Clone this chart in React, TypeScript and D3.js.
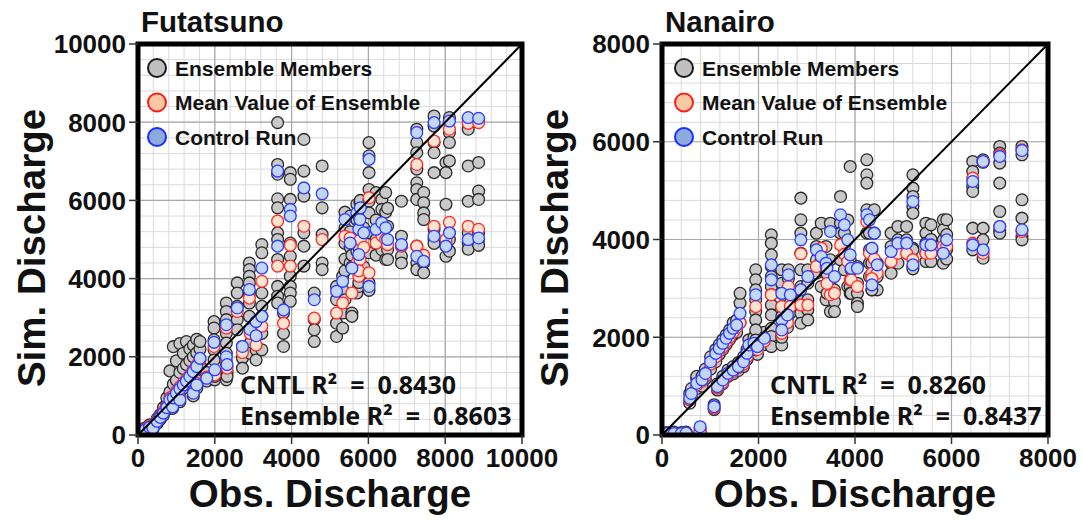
import React from "react";
import * as d3 from "d3";

// ---------- Futatsuno data (obs, control run, ensemble mean, members) ----------
const futObs = [60, 180, 300, 390, 500, 580, 660, 750, 830, 900, 920, 1000, 1090, 1090, 1180, 1260, 1350, 1440, 1440, 1530, 1530, 1615, 1790,
  1980, 2000, 2300, 2300, 2320, 2585, 2720, 2900, 2920, 3075, 3075, 3225, 3225, 3636, 3636, 3790, 3966, 3966, 4320, 4590, 4795, 5170, 5330,
  5390, 5525, 5570, 5700, 5750, 5780, 5790, 5750, 5880, 6016, 6016, 6200, 6350, 6450, 6500, 6860, 7260, 7260, 7440, 7710, 7710, 8020, 8110, 8110, 8600, 8600, 8870, 8870];
const futCtrl = [80, 120, 200, 180, 350, 450, 560, 700, 900, 720, 950, 1070, 900, 1180, 1280, 1380, 1490, 1070, 1620, 1750, 1280, 1960, 1450,
  2370, 1667, 2820, 2000, 1800, 3250, 2265, 3720, 2700, 2900, 2540, 4270, 3034, 6750, 4830, 3200, 5770, 5600, 6320, 3460, 6170, 3675, 3930,
  5510, 4910, 4270, 5680, 5260, 5510, 5810, 4615, 5170, 7050, 3800, 5260, 5430, 5300, 5000, 4870, 7735, 4570, 4445, 7990, 5085, 4830, 8030, 5170, 8120, 5000, 8100, 5040];
const futMean = [70, 140, 220, 200, 380, 470, 600, 730, 950, 760, 1000, 1120, 950, 1230, 1330, 1420, 1530, 1120, 1660, 1780, 1320, 1920, 1480,
  2265, 1540, 2735, 1920, 1710, 3160, 2110, 3500, 2600, 2690, 2300, 3930, 2780, 5470, 4320, 2860, 4850, 4320, 5340, 2990, 5000, 3120, 3376,
  5085, 5040, 3630, 4400, 4060, 4490, 5000, 4200, 4800, 6070, 4150, 4910, 5100, 5000, 4870, 4830, 6920, 4830, 4600, 7520, 5340, 5000, 7820, 5440, 7970, 5340, 7990, 5260];
const futMembers = [
  [40, 100], [90, 180], [170, 260], [150, 240], [300, 420], [400, 520], [500, 650, 700], [650, 800, 950], [800, 1100, 1640], [680, 820],
  [900, 1300, 2260], [1000, 1400, 1900], [850, 1000], [1100, 1600, 2340], [1200, 1700, 2090], [1300, 1800, 2390], [1400, 1900, 2200],
  [1000, 1200], [1550, 2000, 2300], [1650, 2100, 2450], [1200, 1400], [1800, 2200, 2390], [1380, 1600],
  [2900, 2735, 2435, 2180, 1920], [1410, 1500, 1620], [3376, 3160, 2950, 2600, 2350], [2090, 1840, 1580, 1410], [1600, 1500],
  [3890, 3630, 3290, 2950, 2690], [2265, 1966, 1710], [4400, 4230, 4060, 3890, 3630, 3376, 3034], [2690, 2350, 2090], [2780, 2520],
  [2180, 1920], [4870, 4660, 3630, 3290], [3034, 2600, 2180], [7990, 6920, 6670, 6040, 5810, 5170, 5000], [4490, 3800, 3550, 3376],
  [3120, 2600, 2265], [6710, 6540, 6025, 4910, 4570], [4060, 3800, 3630, 3420], [7560, 6750, 6110, 5170, 4830, 4320],
  [3630, 2950, 2690, 2390], [6880, 5810, 5130, 4400, 4230], [3800, 3460, 2860, 2520], [4060, 3720, 3120, 2735],
  [5700, 5300, 4900, 4500, 4200, 3460], [5600, 5200, 4800, 4400], [4600, 4300, 3120, 3034], [5900, 5500, 5000, 4700, 3630],
  [5600, 4900, 4500, 3800], [5950, 5400, 4700, 4300], [6000, 5300, 4600], [4800, 4400, 3900], [5800, 5300, 4700, 4300],
  [7480, 7140, 6710, 6280, 5980, 5680, 5170], [4660, 3890, 3700], [6200, 5500, 5000, 4600], [6025, 5770, 5340, 4740],
  [6200, 5700, 5000, 4490], [5800, 5340, 4740, 4490], [5980, 5085, 4830, 4570, 4400], [7820, 7480, 7220, 6800, 6450, 6280, 6025],
  [4830, 4400, 4230], [6200, 5940, 5680, 5510, 4400, 4150], [8160, 7900, 7480, 7220, 6710], [5260, 5000, 4900],
  [6970, 6710, 5900, 4830, 4570], [8120, 7735, 7480, 7010], [5170, 5000, 4700], [8080, 7820, 6880], [5980, 5170, 4910, 4750],
  [8080, 6970, 6240], [6025, 5170, 5000, 4850],
];

// ---------- Nanairo data ----------
const nanObs = [100, 250, 400, 500, 790, 1080, 575, 610, 720, 830, 900, 1007, 1115, 1187, 1260, 1330, 1400, 1475, 1547, 1618,
  1150, 1260, 1367, 1475, 1583, 1690, 1763, 1800, 1906, 1978, 2122, 1942, 2266, 2266, 2482, 2482, 2482, 2620, 2660, 2600,
  2878, 2878, 3022, 3200, 3300, 3400, 3490, 3420, 3575, 3700, 3780, 3850, 3900, 3920, 4050, 4245, 4300, 4350, 4400, 4460, 4350,
  4748, 4890, 5070, 5200, 5200, 5470, 5575, 5830, 5900, 6440, 6440, 6655, 6655, 7000, 7000, 7460, 7460];
const nanCtrl = [30, 30, 30, 40, 170, 580, 750, 850, 1060, 1130, 1260, 1500, 1670, 1775, 1877, 1980, 2080, 2184, 2250, 2490,
  990, 1126, 1263, 1330, 1400, 1500, 1672, 1843, 1877, 1809, 1980, 2870, 3481, 3174, 2900, 2355, 2150, 3277, 2870, 2457,
  3993, 2970, 3242, 3788, 3652, 3515, 4164, 3413, 3242, 4505, 4300, 3993, 3686, 3413, 3413, 4505, 4403, 3823, 4130, 3481, 3072,
  3754, 3925, 3925, 4778, 3481, 3890, 3890, 3720, 3993, 5188, 3890, 5597, 3788, 5700, 4266, 5822, 4198];
const nanMean = [20, 20, 20, 30, 60, 550, 720, 820, 1020, 1100, 1200, 1450, 1600, 1720, 1800, 1900, 2000, 2100, 2200, 2300,
  960, 1080, 1220, 1300, 1380, 1450, 1600, 1800, 1820, 1750, 1920, 2628, 2870, 2870, 2628, 2082, 2082, 3038, 2628, 2300,
  3707, 2662, 2662, 3447, 3823, 3447, 2870, 3100, 2900, 3890, 3700, 3550, 3174, 3174, 3038, 4368, 3720, 3310, 3600, 3310, 3200,
  3549, 3720, 3720, 3584, 3584, 3720, 3720, 3857, 3857, 5256, 3925, 5597, 3720, 5734, 4266, 5836, 4164];
const nanMembers = [
  [10, 50], [20, 60], [20, 50], [20, 60], [40, 120], [520, 620], [650, 850], [800, 950], [950, 1150, 1200], [1000, 1200],
  [1150, 1350], [1350, 1600], [1500, 1750], [1650, 1850], [1750, 1950], [1850, 2050], [1950, 2150], [2050, 2300], [2100, 2350],
  [2300, 2700, 2900], [920, 1050], [1050, 1200], [1200, 1330], [1250, 1400], [1320, 1480], [1400, 1600], [1550, 1750], [1700, 1950],
  [1750, 2000], [1650, 1900], [1850, 2100], [3380, 3174, 2970, 2765, 2526, 2355, 2150, 1945, 1740], [4095, 3925, 3686, 3447, 3242, 3038],
  [2870, 2662, 2457, 2184, 2014, 1809], [3380, 3106, 2900, 2628, 2423], [2082, 1843], [2000], [3380, 3200, 2900], [2700, 2500],
  [2400, 2200], [4846, 4403, 4130, 3720], [3380, 3038, 2765, 2492, 2287], [3380, 3106, 2765, 2560, 2355], [4130, 3857, 3584, 3310],
  [4334, 3584, 3038], [3857, 3310, 2765], [4334, 3584, 3038, 2526], [3300, 2900], [2970, 2730, 2526], [4880, 4334, 4130, 3584],
  [4130, 3857, 3380], [4400, 3600, 3038], [5495, 3584, 3038, 2900], [3380, 2900], [3447, 3106, 2900, 2696, 2628],
  [5631, 5324, 5154, 4607, 4130], [4130, 3788, 3515, 3242], [3788, 3515, 3242, 2970], [4607, 4130], [3515, 3242, 2970], [2970],
  [4130, 3857, 3515, 3310], [4266, 3993, 3720, 3515], [4266, 3993, 3720], [5324, 5051, 4880, 4676, 4539, 3823, 3447], [3788, 3400],
  [4334, 4130, 3925, 3720, 3550], [4300, 4000, 3720, 3550], [4403, 4198, 3993, 3720, 3515], [4403, 4100, 3800, 3600],
  [5597, 5393, 5085, 4983], [4232, 3788], [5631, 5580], [4232, 3993, 3618], [5904, 5768, 5563, 5154], [4573, 4198, 4130],
  [5904, 5734], [4812, 4437, 4061, 3993],
];

const legendLabels = ["Ensemble Members", "Mean Value of Ensemble", "Control Run"];
const panelTitles = ["Futatsuno", "Nanairo"];
const cntlR2 = ["0.8430", "0.8260"];
const ensR2 = ["0.8603", "0.8437"];

const FONT = "'Liberation Sans', Arial, sans-serif";
const ANNOT_FONT = "'Noto Sans', 'Open Sans', sans-serif";

const STYLE = {
  member: { fill: "#c9c9c9", stroke: "#2b2b2b" },
  mean: { fill: "#fde3d0", stroke: "#ff2a2a" },
  ctrl: { fill: "#c3d6f3", stroke: "#2a3cff" },
};
const LEG = {
  member: { fill: "#c0c0c0", stroke: "#1a1a1a" },
  mean: { fill: "#f8c9a2", stroke: "#ff1a1a" },
  ctrl: { fill: "#8eaadc", stroke: "#1a2cff" },
};

type PanelProps = {
  title: string;
  max: number;
  obs: number[];
  ctrl: number[];
  mean: number[];
  members: number[][];
  left: number;
  right: number;
  top: number;
  bottom: number;
  yTitleX: number;
  legendDx: number;
  annotX: number;
  cntl: string;
  ens: string;
};

function Panel(p: PanelProps) {
  const x = d3.scaleLinear().domain([0, p.max]).range([p.left, p.right]);
  const y = d3.scaleLinear().domain([0, p.max]).range([p.bottom, p.top]);
  const minor = d3.range(0, p.max + 1, 400);
  const major = d3.range(0, p.max + 1, 2000);
  const r = 5.9;
  const memberPts: [number, number][] = [];
  p.members.forEach((ms, i) => ms.forEach((v) => memberPts.push([p.obs[i], v])));
  const cx = (p.left + p.right) / 2;
  const legend = [LEG.member, LEG.mean, LEG.ctrl];
  const pre = { whiteSpace: "pre" } as React.CSSProperties;
  return (
    <g>
      <text x={p.left + 3} y={32} fontFamily={FONT} fontWeight="bold" fontSize={29.5} fill="#111">{p.title}</text>
      <defs>
        <clipPath id={"clip-" + p.title}>
          <rect x={p.left} y={p.top} width={p.right - p.left} height={p.bottom - p.top} />
        </clipPath>
      </defs>
      {minor.map((v) => (
        <g key={"mn" + v}>
          <line x1={x(v)} x2={x(v)} y1={p.top} y2={p.bottom} stroke="#dadada" strokeWidth={1} />
          <line x1={p.left} x2={p.right} y1={y(v)} y2={y(v)} stroke="#dadada" strokeWidth={1} />
        </g>
      ))}
      {major.map((v) => (
        <g key={"mj" + v}>
          <line x1={x(v)} x2={x(v)} y1={p.top} y2={p.bottom} stroke="#a8a8a8" strokeWidth={1.2} />
          <line x1={p.left} x2={p.right} y1={y(v)} y2={y(v)} stroke="#a8a8a8" strokeWidth={1.2} />
        </g>
      ))}
      <g clipPath={`url(#clip-${p.title})`}>
        {memberPts.map((d, i) => (
          <circle key={"m" + i} cx={x(d[0])} cy={y(d[1])} r={r} fill={STYLE.member.fill} stroke={STYLE.member.stroke} strokeWidth={1.3} />
        ))}
        {p.obs.map((o, i) => (
          <circle key={"a" + i} cx={x(o)} cy={y(p.mean[i])} r={r} fill={STYLE.mean.fill} stroke={STYLE.mean.stroke} strokeWidth={1.3} />
        ))}
        {p.obs.map((o, i) => (
          <circle key={"c" + i} cx={x(o)} cy={y(p.ctrl[i])} r={r} fill={STYLE.ctrl.fill} stroke={STYLE.ctrl.stroke} strokeWidth={1.3} />
        ))}
      </g>
      <line x1={x(0)} y1={y(0)} x2={x(p.max)} y2={y(p.max)} stroke="#000" strokeWidth={2} />
      <rect x={p.left} y={p.top} width={p.right - p.left} height={p.bottom - p.top} fill="none" stroke="#000" strokeWidth={5} />
      {major.map((v) => (
        <g key={"t" + v}>
          <line x1={p.left - 9} x2={p.left} y1={y(v)} y2={y(v)} stroke="#333" strokeWidth={1.5} />
          <line x1={x(v)} x2={x(v)} y1={p.bottom} y2={p.bottom + 9} stroke="#333" strokeWidth={1.5} />
          <text x={p.left - 12} y={y(v)} dy="0.36em" textAnchor="end" fontFamily={FONT} fontWeight="bold" fontSize={26} fill="#111">{v}</text>
          <text x={x(v)} y={p.bottom + 32} textAnchor="middle" fontFamily={FONT} fontWeight="bold" fontSize={26} fill="#111">{v}</text>
        </g>
      ))}
      {legendLabels.map((lab, i) => (
        <g key={lab}>
          <circle cx={p.left + p.legendDx} cy={68 + i * 34.5} r={9} fill={legend[i].fill} stroke={legend[i].stroke} strokeWidth={2} />
          <text x={p.left + p.legendDx + 18} y={68 + i * 34.5} dy="0.36em" fontFamily={FONT} fontWeight="bold" fontSize={21} fill="#111">{lab}</text>
        </g>
      ))}
      <text x={p.annotX} y={394} fontFamily={ANNOT_FONT} fontWeight="bold" fontSize={25} fill="#111" style={pre}>
        {"CNTL R\u00B2  =  " + p.cntl}
      </text>
      <text x={p.annotX} y={425} fontFamily={ANNOT_FONT} fontWeight="bold" fontSize={25} fill="#111" style={pre}>
        {"Ensemble R\u00B2  =  " + p.ens}
      </text>
      <text x={cx} y={507} textAnchor="middle" fontFamily={FONT} fontWeight="bold" fontSize={38.5} fill="#111">Obs. Discharge</text>
      <text transform={`translate(${p.yTitleX},248) rotate(-90)`} textAnchor="middle" fontFamily={FONT} fontWeight="bold" fontSize={38.5} fill="#111">Sim. Discharge</text>
    </g>
  );
}

export default function App() {
  return (
    <svg width={1083} height={522} style={{ position: "absolute", left: 0, top: 0, background: "#fff" }}>
      <rect width={1083} height={522} fill="#fff" />
      <Panel title={panelTitles[0]} max={10000} obs={futObs} ctrl={futCtrl} mean={futMean} members={futMembers}
        left={138} right={522} top={44} bottom={435} yTitleX={45} legendDx={19} annotX={240} cntl={cntlR2[0]} ens={ensR2[0]} />
      <Panel title={panelTitles[1]} max={8000} obs={nanObs} ctrl={nanCtrl} mean={nanMean} members={nanMembers}
        left={662} right={1048} top={44} bottom={435} yTitleX={568} legendDx={22} annotX={770} cntl={cntlR2[1]} ens={ensR2[1]} />
    </svg>
  );
}
